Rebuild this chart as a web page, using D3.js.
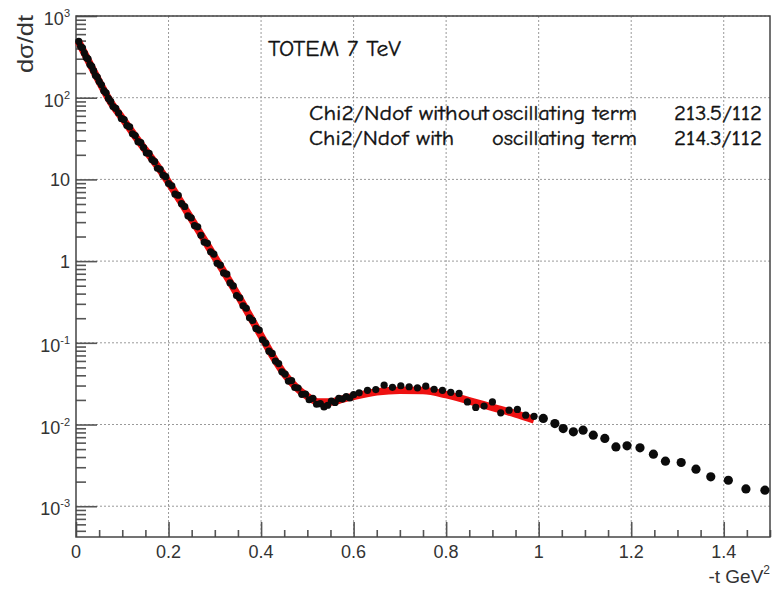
<!DOCTYPE html>
<html>
<head>
<meta charset="utf-8">
<script src="https://cdn.jsdelivr.net/npm/d3@7"></script>
<style>
    html, body { margin: 0; padding: 0; background: #fff; }
    svg { display: block; }
</style>
</head>
<body>
<svg id="chart" width="773" height="597"></svg>
<script>
'use strict';

// measured points, low |t| set: -t (GeV^2) and d(sigma)/dt
const lowT = [
    0.006, 0.010, 0.014, 0.018, 0.022, 0.026, 0.030, 0.034, 0.038, 0.042, 0.046, 0.050,
    0.055, 0.060, 0.065, 0.070, 0.075, 0.080, 0.086, 0.092, 0.098, 0.104, 0.110, 0.116,
    0.122, 0.128, 0.134, 0.140, 0.146, 0.152, 0.158, 0.164, 0.170, 0.176, 0.182, 0.188,
    0.194, 0.200,
    0.207, 0.214, 0.221, 0.228, 0.235, 0.242, 0.249, 0.256, 0.263, 0.270,
    0.277, 0.284, 0.291, 0.298, 0.305, 0.312, 0.319, 0.326, 0.333, 0.340,
    0.347, 0.354, 0.361, 0.368, 0.375, 0.382, 0.389, 0.396, 0.403, 0.410,
    0.417, 0.424, 0.431, 0.438, 0.445, 0.452, 0.459, 0.466, 0.473, 0.480,
    0.488, 0.496, 0.504, 0.512, 0.520, 0.528, 0.536, 0.544, 0.552, 0.560,
    0.568, 0.576, 0.584, 0.592, 0.600,
    0.612, 0.630, 0.648, 0.666, 0.684, 0.702, 0.720, 0.738, 0.756, 0.774,
    0.792, 0.810, 0.828, 0.846, 0.864, 0.882, 0.900, 0.918, 0.936, 0.954,
    0.972, 0.990
];
const lowDsdt = [
    489, 422, 408, 352, 311, 298, 255, 242, 214, 187, 179, 158,
    144, 122, 115, 98, 90, 77.8, 74, 64.9, 55.7, 54.1, 45.7, 43.9,
    36.2, 34.4, 29.0, 28.2, 24.5, 21.1, 20.8, 17.5, 16.5, 13.7, 13.3, 11.3,
    10.8, 8.91,
    8.36, 6.59, 6.40, 5.04, 4.66, 3.58, 3.38, 2.72, 2.63, 2.07,
    1.71, 1.65, 1.30, 1.22, 0.942, 0.891, 0.716, 0.692, 0.541, 0.497,
    0.379, 0.356, 0.284, 0.265, 0.202, 0.188, 0.150, 0.143, 0.109, 0.0993,
    0.0791, 0.0741, 0.0598, 0.0557, 0.0441, 0.0414, 0.0340, 0.0345, 0.0284, 0.0280,
    0.0234, 0.0236, 0.0201, 0.0209, 0.0177, 0.0180, 0.0164, 0.0172, 0.0194, 0.0186,
    0.0209, 0.0205, 0.0220, 0.0211, 0.0232,
    0.0244, 0.0262, 0.0268, 0.0303, 0.0285, 0.0298, 0.0290, 0.0281, 0.0295, 0.0270,
    0.0262, 0.0248, 0.0240, 0.0189, 0.0162, 0.0168, 0.0189, 0.0139, 0.0150, 0.0153,
    0.0130, 0.0126
];

// measured points, high |t| set
const highT = [
    1.010, 1.035, 1.053, 1.075, 1.096, 1.118, 1.143, 1.167, 1.191, 1.219,
    1.248, 1.274, 1.308, 1.340, 1.372, 1.410, 1.448, 1.489
];
const highDsdt = [
    0.01186, 0.01028, 0.00893, 0.00813, 0.00853, 0.00741, 0.00675, 0.00532, 0.00548, 0.00518,
    0.00433, 0.00356, 0.00343, 0.00284, 0.00229, 0.00208, 0.00163, 0.00157
];

// fit curve (red)
const fitT = [
    0.005, 0.025, 0.05, 0.075, 0.1, 0.125, 0.15, 0.175, 0.2, 0.225, 0.25,
    0.275, 0.3, 0.325, 0.35, 0.375, 0.4, 0.425, 0.45, 0.475, 0.5, 0.525,
    0.55, 0.575, 0.6, 0.65, 0.7, 0.75, 0.8, 0.85, 0.9, 0.95, 0.99
];
const fitDsdt = [
    490, 295, 158, 88, 56.2, 35.5, 22.9, 14.8, 9.2, 5.5, 3.24,
    1.91, 1.12, 0.66, 0.38, 0.216, 0.122, 0.069, 0.0417, 0.0288, 0.0221, 0.0188,
    0.0188, 0.0204, 0.0221, 0.0251, 0.0263, 0.026, 0.0232, 0.0195, 0.0162, 0.0135, 0.0114
];

const xTickValues = [0, 0.2, 0.4, 0.6, 0.8, 1, 1.2, 1.4];
const xTickLabels = ['0', '0.2', '0.4', '0.6', '0.8', '1', '1.2', '1.4'];
const yTickValues = [1e-3, 1e-2, 1e-1, 1, 10, 1e2, 1e3];
const yTickBases = ['10', '10', '10', '1', '10', '10', '10'];
const yTickExps = ['-3', '-2', '-1', '', '', '2', '3'];

const titleText = 'TOTEM 7 TeV';
const chiLabels = ['Chi2/Ndof without', 'Chi2/Ndof with'];
const termLabel = 'oscillating term';
const chiValues = ['213.5/112', '214.3/112'];

(function () {
    const d3 = window.d3;
    const svg = d3.select('#chart');
    const left = 76, right = 770, top = 16, bottom = 537;
    const axisFont = '"Liberation Sans", Arial, Helvetica, sans-serif';
    const noteFont = '"Comic Sans MS", "Comic Neue", "Open Sans", sans-serif';

    const x = d3.scaleLinear().domain([0, 1.5]).range([left, right]);
    const y = d3.scaleLog().domain([4.2e-4, 1e3]).range([bottom, top]);

    svg.append('rect')
        .attr('width', 773)
        .attr('height', 597)
        .attr('fill', '#fff');

    // dotted grid
    const grid = svg.append('g')
        .attr('stroke', '#9a9a9a')
        .attr('stroke-width', 1)
        .attr('stroke-dasharray', '2,2');
    grid.selectAll('.vgrid')
        .data(xTickValues.filter(v => v > 0))
        .enter().append('line')
        .attr('class', 'vgrid')
        .attr('x1', d => x(d))
        .attr('x2', d => x(d))
        .attr('y1', top)
        .attr('y2', bottom);
    grid.selectAll('.hgrid')
        .data(yTickValues)
        .enter().append('line')
        .attr('class', 'hgrid')
        .attr('x1', left)
        .attr('x2', right)
        .attr('y1', d => y(d))
        .attr('y2', d => y(d));

    // ticks (ROOT style, inside the frame)
    const yMinor = y.ticks().filter(v => yTickValues.indexOf(v) < 0);
    const xMinor = x.ticks(30).filter(v => xTickValues.indexOf(v) < 0);

    function styleTicks(g) {
        g.select('.domain').remove();
        g.selectAll('.tick line')
            .attr('stroke', '#555')
            .attr('stroke-width', 1.6);
    }

    svg.append('g')
        .attr('transform', 'translate(' + left + ',0)')
        .call(d3.axisRight(y).tickValues(yTickValues).tickSize(21).tickFormat(''))
        .call(styleTicks);
    svg.append('g')
        .attr('transform', 'translate(' + left + ',0)')
        .call(d3.axisRight(y).tickValues(yMinor).tickSize(10).tickFormat(''))
        .call(styleTicks);
    svg.append('g')
        .attr('transform', 'translate(0,' + bottom + ')')
        .call(d3.axisTop(x).tickValues(xTickValues).tickSize(15).tickFormat(''))
        .call(styleTicks);
    svg.append('g')
        .attr('transform', 'translate(0,' + bottom + ')')
        .call(d3.axisTop(x).tickValues(xMinor).tickSize(7).tickFormat(''))
        .call(styleTicks);

    // frame
    svg.append('rect')
        .attr('x', left)
        .attr('y', top)
        .attr('width', right - left)
        .attr('height', bottom - top)
        .attr('fill', 'none')
        .attr('stroke', '#444')
        .attr('stroke-width', 1.5);

    // fit line
    const line = d3.line()
        .x((d, i) => x(fitT[i]))
        .y(d => y(d))
        .curve(d3.curveMonotoneX);
    svg.append('path')
        .datum(fitDsdt)
        .attr('fill', 'none')
        .attr('stroke', '#ee1111')
        .attr('stroke-width', 7.5)
        .attr('stroke-linejoin', 'round')
        .attr('d', line);

    // data points
    function drawPoints(ts, vals, r) {
        svg.append('g')
            .selectAll('circle')
            .data(vals)
            .enter().append('circle')
            .attr('cx', (d, i) => x(ts[i]))
            .attr('cy', d => y(d))
            .attr('r', r)
            .attr('fill', '#0b0b0b');
    }
    drawPoints(lowT, lowDsdt, 3.6);
    drawPoints(highT, highDsdt, 4.6);

    // tick labels
    svg.append('g')
        .selectAll('text')
        .data(xTickValues)
        .enter().append('text')
        .attr('x', d => x(d))
        .attr('y', 558)
        .attr('text-anchor', 'middle')
        .attr('font-family', axisFont)
        .attr('font-size', '18px')
        .attr('fill', '#333')
        .text((d, i) => xTickLabels[i]);

    const yLab = svg.append('g')
        .selectAll('text')
        .data(yTickValues)
        .enter().append('text')
        .attr('x', 70)
        .attr('y', (d, i) => y(d) + (yTickExps[i] ? 9 : 7))
        .attr('text-anchor', 'end')
        .attr('font-family', axisFont)
        .attr('font-size', '18px')
        .attr('fill', '#333');
    yLab.append('tspan')
        .text((d, i) => yTickBases[i]);
    yLab.append('tspan')
        .attr('dy', -8)
        .attr('font-size', '11px')
        .text((d, i) => yTickExps[i]);

    // axis titles
    svg.append('text')
        .attr('transform', 'translate(33,15) rotate(-90)')
        .attr('text-anchor', 'end')
        .attr('font-family', axisFont)
        .attr('font-size', '22px')
        .attr('fill', '#333')
        .attr('textLength', 58)
        .attr('lengthAdjust', 'spacingAndGlyphs')
        .text('dσ/dt');

    const xTitle = svg.append('text')
        .attr('x', 770)
        .attr('y', 583)
        .attr('text-anchor', 'end')
        .attr('font-family', axisFont)
        .attr('font-size', '19px')
        .attr('fill', '#333');
    xTitle.append('tspan').text('-t GeV');
    xTitle.append('tspan')
        .attr('dy', -9)
        .attr('font-size', '12px')
        .text('2');

    // annotations
    function note(str, px, py, len, size) {
        svg.append('text')
            .attr('x', px)
            .attr('y', py)
            .attr('font-family', noteFont)
            .attr('font-size', size + 'px')
            .attr('fill', '#111')
            .attr('stroke', '#111')
            .attr('stroke-width', 0.35)
            .attr('textLength', len)
            .attr('lengthAdjust', 'spacingAndGlyphs')
            .text(str);
    }
    note(titleText, 268, 56, 133, 23);
    note(chiLabels[0], 309, 120, 180, 20);
    note(termLabel, 492, 120, 145, 20);
    note(chiValues[0], 674, 120, 88, 20);
    note(chiLabels[1], 309, 145, 145, 20);
    note(termLabel, 492, 145, 145, 20);
    note(chiValues[1], 674, 145, 88, 20);
}());
</script>
</body>
</html>
